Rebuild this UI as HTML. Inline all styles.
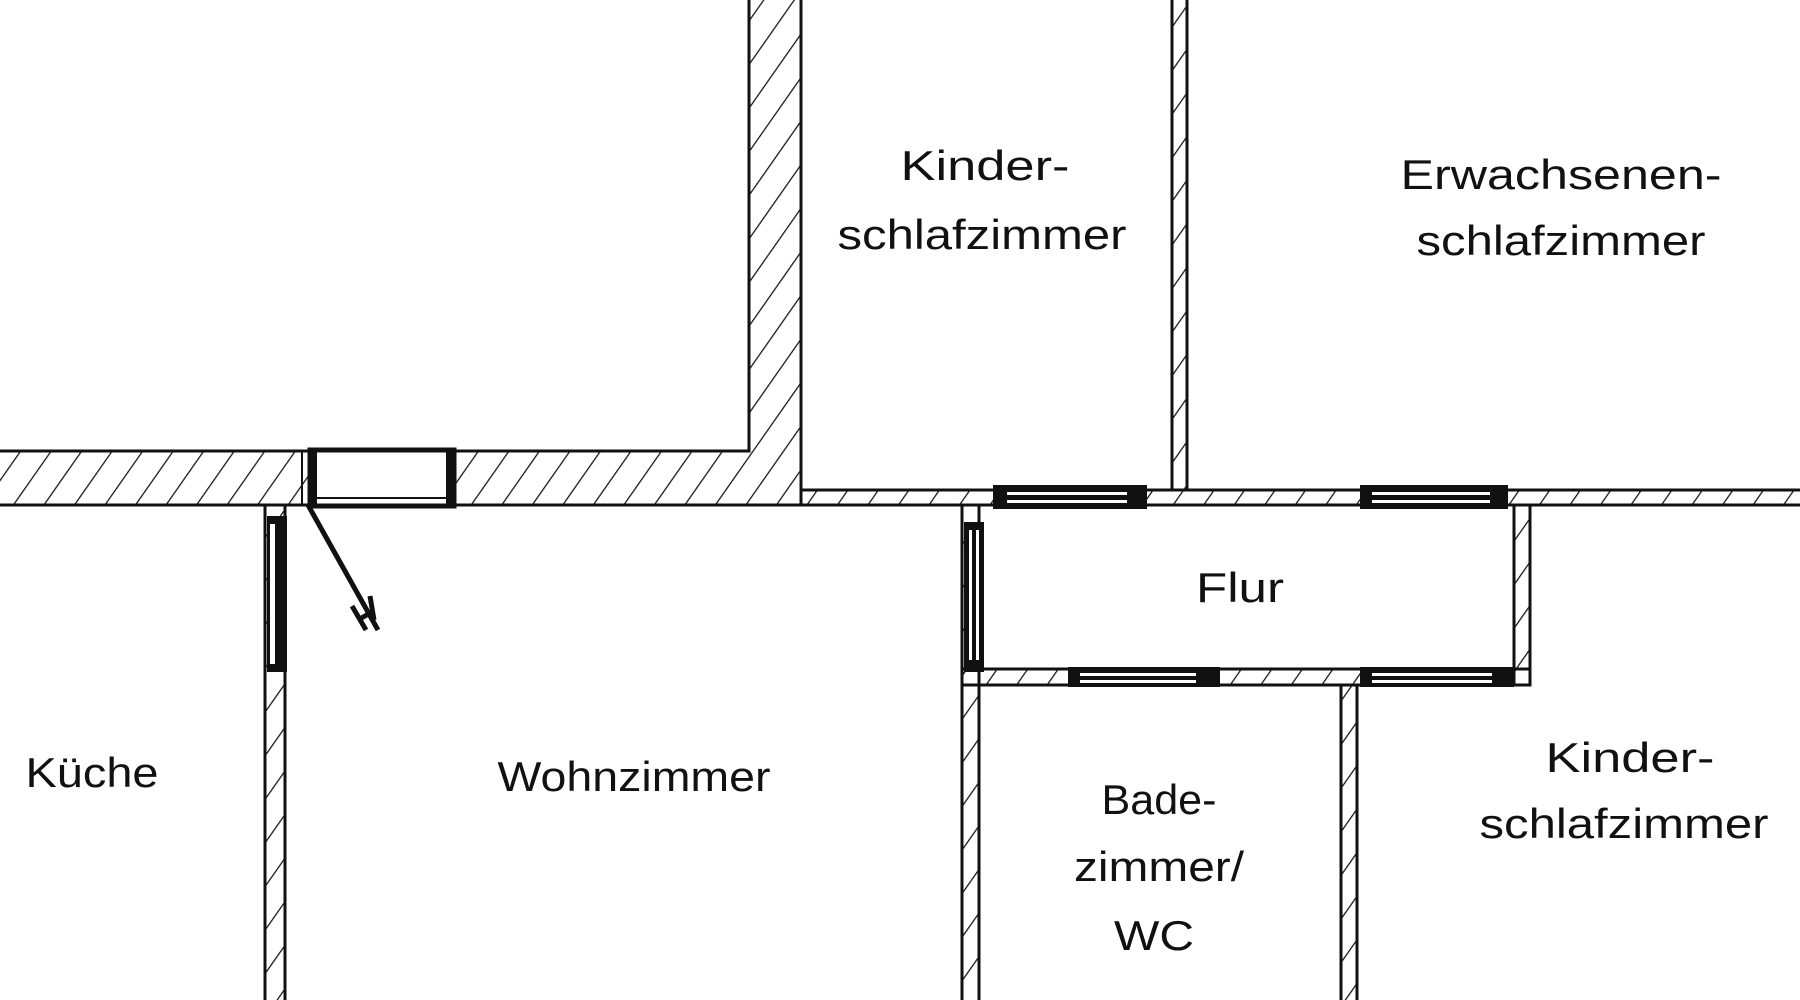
<!DOCTYPE html>
<html><head><meta charset="utf-8"><style>
html,body{margin:0;padding:0;background:#fff;width:1800px;height:1000px;overflow:hidden}
text{font-family:"Liberation Sans","DejaVu Sans",sans-serif;font-size:42px;fill:#111}
</style></head><body>
<svg width="1800" height="1000" viewBox="0 0 1800 1000" xmlns="http://www.w3.org/2000/svg">
<defs>
<pattern id="h" patternUnits="userSpaceOnUse" width="25" height="25" patternTransform="rotate(35)">
<line x1="0" y1="0" x2="0" y2="25" stroke="#111" stroke-width="2.5"/>
</pattern>
</defs>
<g stroke="#111" stroke-width="3">
<path d="M-5 451 H749 V-5 H801 V505 H-5 Z" fill="url(#h)"/>
<rect x="801" y="490" width="1005" height="15" fill="url(#h)"/>
<rect x="1172" y="-5" width="15" height="495" fill="url(#h)"/>
<rect x="265" y="505" width="20" height="500" fill="url(#h)"/>
<rect x="962" y="505" width="17" height="500" fill="url(#h)"/>
<rect x="1514" y="505" width="16" height="180" fill="url(#h)"/>
<rect x="962" y="669" width="568" height="16" fill="url(#h)"/>
<rect x="1341" y="685" width="16" height="320" fill="url(#h)"/>
</g>
<!-- thick wall window -->
<rect x="308" y="449" width="148" height="58" fill="#fff" stroke="none"/>
<rect x="310" y="450" width="144" height="56" fill="none" stroke="#111" stroke-width="5"/>
<rect x="310" y="448" width="7" height="60" fill="#111"/>
<rect x="446" y="448" width="10" height="60" fill="#111"/>
<line x1="302" y1="450" x2="302" y2="506" stroke="#111" stroke-width="2"/>
<line x1="315" y1="498" x2="450" y2="498" stroke="#111" stroke-width="2"/>
<!-- door swing -->
<line x1="308" y1="505" x2="378" y2="630" stroke="#111" stroke-width="5"/>
<path d="M352 606 L366 630 M370 596 L374 620 M358 620 L372 612" stroke="#111" stroke-width="5" fill="none"/>
<g>
<rect x="993" y="485" width="154" height="24" fill="#111"/>
<rect x="1007" y="492" width="120" height="3" fill="#fff"/><rect x="1007" y="500" width="120" height="3" fill="#fff"/>
<rect x="1360" y="485" width="148" height="24" fill="#111"/>
<rect x="1372" y="492" width="118" height="3" fill="#fff"/><rect x="1372" y="500" width="118" height="3" fill="#fff"/>
<rect x="1068" y="667" width="152" height="20" fill="#111"/>
<rect x="1080" y="673" width="116" height="3" fill="#fff"/><rect x="1080" y="680" width="116" height="3" fill="#fff"/>
<rect x="1360" y="667" width="154" height="20" fill="#111"/>
<rect x="1372" y="673" width="120" height="3" fill="#fff"/><rect x="1372" y="680" width="120" height="3" fill="#fff"/>
<rect x="964" y="522" width="20" height="150" fill="#111"/>
<rect x="969" y="530" width="3" height="130" fill="#fff"/><rect x="976" y="530" width="3" height="130" fill="#fff"/>
<rect x="267" y="516" width="20" height="156" fill="#111"/>
<rect x="270" y="524" width="5" height="140" fill="#fff"/>
</g>
<g text-anchor="middle">
<text x="985" y="180" textLength="169" lengthAdjust="spacingAndGlyphs">Kinder-</text>
<text x="982" y="249" textLength="289" lengthAdjust="spacingAndGlyphs">schlafzimmer</text>
<text x="1561" y="189" textLength="321" lengthAdjust="spacingAndGlyphs">Erwachsenen-</text>
<text x="1561" y="255" textLength="289" lengthAdjust="spacingAndGlyphs">schlafzimmer</text>
<text x="1240" y="602" textLength="88" lengthAdjust="spacingAndGlyphs">Flur</text>
<text x="92" y="787" textLength="133" lengthAdjust="spacingAndGlyphs">Küche</text>
<text x="634" y="791" textLength="273" lengthAdjust="spacingAndGlyphs">Wohnzimmer</text>
<text x="1159" y="814" textLength="115" lengthAdjust="spacingAndGlyphs">Bade-</text>
<text x="1159" y="881" textLength="170" lengthAdjust="spacingAndGlyphs">zimmer/</text>
<text x="1154" y="950" textLength="80" lengthAdjust="spacingAndGlyphs">WC</text>
<text x="1630" y="772" textLength="169" lengthAdjust="spacingAndGlyphs">Kinder-</text>
<text x="1624" y="838" textLength="289" lengthAdjust="spacingAndGlyphs">schlafzimmer</text>
</g>
</svg>
</body></html>
